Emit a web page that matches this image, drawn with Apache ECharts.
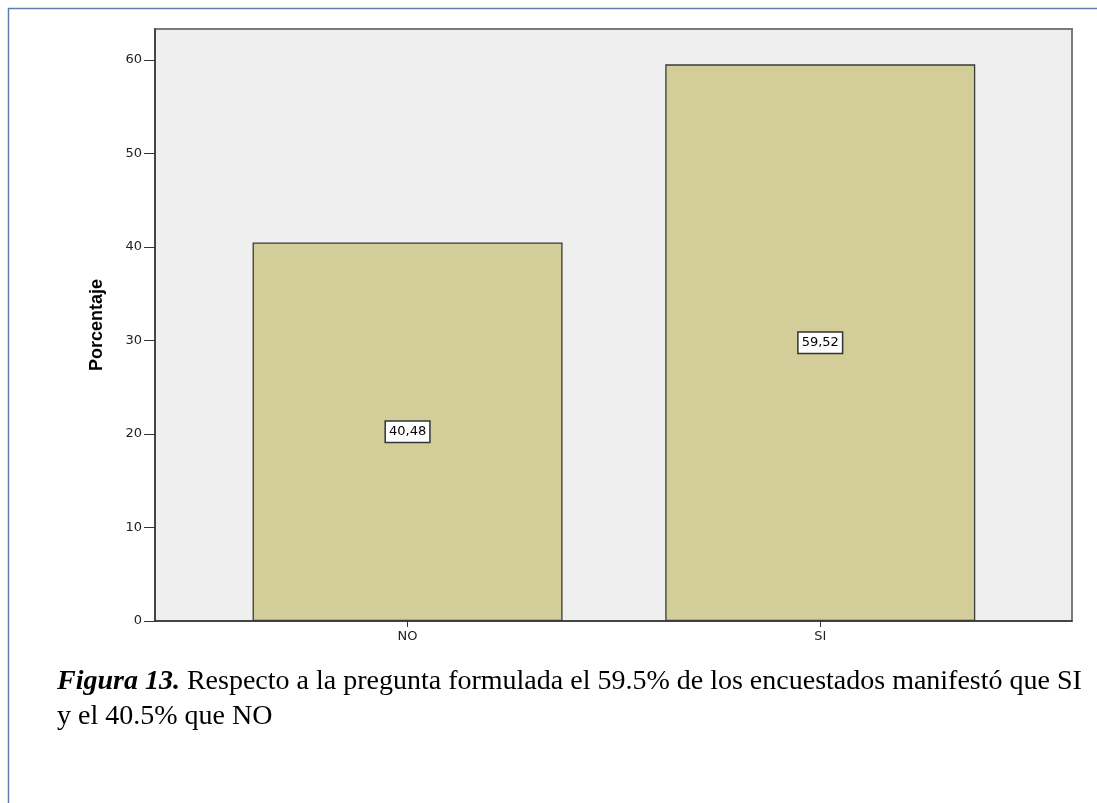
<!DOCTYPE html>
<html>
<head>
<meta charset="utf-8">
<script src="https://cdn.jsdelivr.net/npm/echarts@6/dist/echarts.min.js"></script>
<style>
html,body{margin:0;padding:0;background:#fff;}
#chart{width:1097px;height:803px;}
</style>
</head>
<body>
<div id="chart"></div>
<script>
const categories = ['NO', 'SI'];
const values = [40.48, 59.52];
const yTicks = [0, 10, 20, 30, 40, 50, 60];
const valueLabels = ['40,48', '59,52'];
const captionBold = 'Figura 13.';
const captionLine1 = ' Respecto a la pregunta formulada el 59.5% de los encuestados manifestó que SI';
const captionLine2 = 'y el 40.5% que NO';

const chart = echarts.init(document.getElementById('chart'), null, {renderer: 'canvas'});
const xIdx = categories.map((c, i) => i);
const serif = '"Liberation Serif", "Times New Roman", serif';
const sans = '"DejaVu Sans", Verdana, sans-serif';
const option = {
  backgroundColor: '#ffffff',
  animation: false,
  grid: {
    left: 155, right: 25, top: 29, bottom: 182,
    show: true, backgroundColor: '#efefef', borderColor: '#7a7a7a', borderWidth: 2
  },
  xAxis: {
    type: 'value', min: -0.612, max: 1.61,
    splitLine: {show: false},
    axisLine: {show: true, onZero: false, lineStyle: {color: '#333', width: 1.5}},
    axisTick: {show: true, customValues: xIdx, length: 6, lineStyle: {color: '#333'}},
    axisLabel: {
      customValues: xIdx, margin: 9,
      formatter: v => categories[Math.round(v)] ?? '',
      fontFamily: sans, fontSize: 13, color: '#222'
    }
  },
  yAxis: {
    type: 'value', min: 0, max: 63.3,
    name: 'Porcentaje', nameLocation: 'middle', nameGap: 49, nameRotate: 90,
    nameTextStyle: {fontFamily: '"Liberation Sans", Arial, sans-serif', fontWeight: 'bold', fontSize: 18, color: '#000'},
    splitLine: {show: false},
    axisLine: {show: true, onZero: false, lineStyle: {color: '#333', width: 1.5}},
    axisTick: {show: true, customValues: yTicks, length: 11, lineStyle: {color: '#333'}},
    axisLabel: {
      customValues: yTicks, margin: 13,
      fontFamily: sans, fontSize: 13, color: '#222'
    }
  },
  series: [{
    type: 'bar',
    barWidth: 310,
    data: values.map((v, i) => [xIdx[i], v]),
    itemStyle: {color: '#d3ce99', borderColor: '#3a3a3a', borderWidth: 1.3},
    label: {
      show: true, position: 'inside',
      formatter: p => valueLabels[p.dataIndex],
      backgroundColor: '#ffffff', borderColor: '#333', borderWidth: 1.5,
      padding: [4, 3, 3, 3],
      fontFamily: sans, fontSize: 13, color: '#000'
    }
  }],
  graphic: [
    {type: 'polyline', shape: {points: [[8.5, 803], [8.5, 8.5], [1097, 8.5]]},
     style: {stroke: '#5d7ea8', lineWidth: 1.5, fill: null}, silent: true},
    {type: 'text', x: 57, y: 668,
     style: {text: '{b|' + captionBold + '}' + captionLine1,
       font: '28px ' + serif, fill: '#000',
       rich: {b: {font: 'italic bold 28px ' + serif, fill: '#000'}}}},
    {type: 'text', x: 57, y: 703,
     style: {text: captionLine2, font: '28px ' + serif, fill: '#000'}}
  ]
};
chart.setOption(option);
</script>
</body>
</html>
